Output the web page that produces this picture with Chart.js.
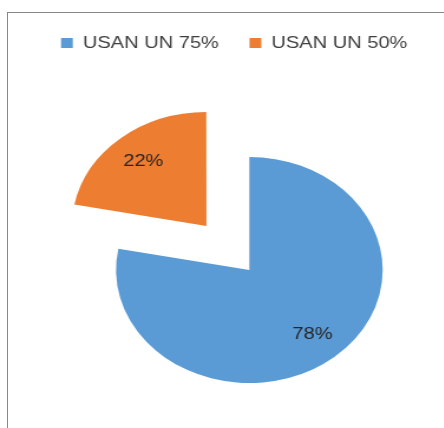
<!DOCTYPE html>
<html>
<head>
<meta charset="utf-8">
<script src="https://cdn.jsdelivr.net/npm/chart.js@4/dist/chart.umd.min.js"></script>
<style>
  html, body { margin: 0; padding: 0; background: #fff; overflow: hidden; width: 444px; height: 428px; }
  #frame { position: absolute; left: 7px; top: 12px; width: 600px; height: 600px;
           border-left: 1px solid #888; border-top: 1px solid #888; box-sizing: border-box; }
  #wrap { position: absolute; left: 0; top: 0; width: 400px; height: 480px;
          transform: scaleX(1.18); transform-origin: 0 0; }
</style>
</head>
<body>
<div id="frame"></div>
<div id="wrap"><canvas id="c"></canvas></div>
<script>
const categories = ["USAN UN 75%", "USAN UN 50%"];
const values = [78, 22];
const colors = ["#5B9BD5", "#ED7D31"];
const explode = [0, 228];

const pctLabels = {
  id: 'pctLabels',
  afterDatasetsDraw(chart) {
    const ctx = chart.ctx;
    const meta = chart.getDatasetMeta(0);
    const data = chart.data.datasets[0].data;
    const total = data.reduce((a, b) => a + b, 0);
    ctx.save();
    ctx.font = '17px "Liberation Sans", Arial, sans-serif';
    ctx.fillStyle = '#262626';
    ctx.textAlign = 'center';
    ctx.textBaseline = 'middle';
    meta.data.forEach((arc, i) => {
      const p = arc.getProps(['x', 'y', 'startAngle', 'endAngle', 'outerRadius'], true);
      const mid = (p.startAngle + p.endAngle) / 2;
      const off = (arc.options.offset || 0) / 4;
      const d = off + 0.743 * p.outerRadius;
      ctx.fillText(Math.round(data[i] / total * 100) + '%', p.x + Math.cos(mid) * d, p.y + Math.sin(mid) * d);
    });
    ctx.restore();
  }
};

new Chart(document.getElementById('c'), {
  type: 'pie',
  data: {
    labels: categories,
    datasets: [{
      data: values,
      backgroundColor: colors,
      borderWidth: 0,
      offset: explode,
      hoverOffset: 0
    }]
  },
  options: {
    responsive: true,
    maintainAspectRatio: false,
    animation: false,
    radius: 113,
    layout: { padding: { left: 25.7, right: 3.1, top: 8.5, bottom: 1.5 } },
    plugins: {
      tooltip: { enabled: false },
      legend: {
        position: 'top',
        align: 'start',
        labels: {
          boxWidth: 10,
          boxHeight: 10,
          padding: 26,
          color: '#404040',
          font: { family: '"Liberation Sans", Arial, sans-serif', size: 17 }
        }
      }
    }
  },
  plugins: [pctLabels]
});
</script>
</body>
</html>
